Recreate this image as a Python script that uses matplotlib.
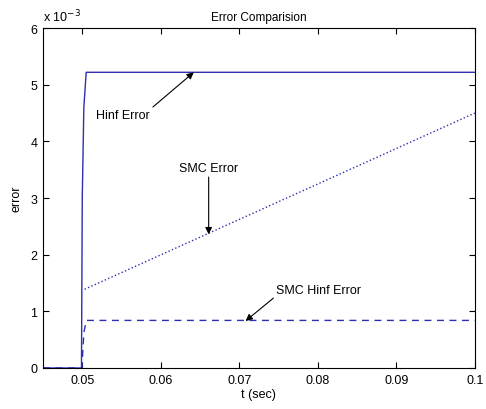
import matplotlib
matplotlib.use("Agg")
import matplotlib.pyplot as plt

plt.rcParams['font.family'] = ['Liberation Sans', 'DejaVu Sans']

# values in units of 1e-3
hinf_t = [0.045, 0.04990, 0.05000, 0.05020, 0.05050, 0.1]
hinf_e = [0.0, 0.0, 3.0, 4.6, 5.22, 5.22]
smc_t = [0.05030, 0.1]
smc_e = [1.39, 4.50]
smchinf_t = [0.045, 0.04995, 0.05020, 0.05050, 0.1]
smchinf_e = [0.0, 0.0, 0.62, 0.84, 0.84]

xticks = [0.05, 0.06, 0.07, 0.08, 0.09, 0.1]
xticklabels = ["0.05", "0.06", "0.07", "0.08", "0.09", "0.1"]
yticks = [0, 1, 2, 3, 4, 5, 6]

blue = "#2e2eb0"
fig = plt.figure(figsize=(4.86, 4.10), dpi=100)
ax = fig.add_axes([0.0885, 0.100, 0.8885, 0.829])
ax.plot(smc_t, smc_e, ":", color=blue, lw=1.0)
ax.plot(smchinf_t, smchinf_e, "--", color=blue, lw=1.0, dashes=(5, 4))
ax.plot(hinf_t, hinf_e, "-", color=blue, lw=1.0)

ax.set_xlim(0.045, 0.1)
ax.set_ylim(0, 6)
ax.set_xticks(xticks)
ax.set_xticklabels(xticklabels)
ax.set_yticks(yticks)
ax.tick_params(direction="in", top=True, right=True, labelsize=9, length=4, width=0.8, pad=4)
for s in ax.spines.values():
    s.set_linewidth(0.8)

ax.set_title("Error Comparision", fontsize=8.5, pad=6)
ax.set_xlabel("t (sec)", fontsize=9, labelpad=2)
ax.set_ylabel("error", fontsize=9, labelpad=6)
ax.text(0.0, 1.012, r"x 10$^{-3}$", transform=ax.transAxes, fontsize=9, va="bottom", ha="left")

arr = dict(arrowstyle="-|>", color="black", lw=0.8, mutation_scale=10, shrinkA=0, shrinkB=0)
ax.annotate("Hinf Error", xy=(0.0642, 5.22), xytext=(0.0518, 4.46), fontsize=9,
            va="center", ha="left", arrowprops=dict(arr, relpos=(1.0, 1.0)))
ax.annotate("SMC Error", xy=(0.0661, 2.36), xytext=(0.0661, 3.42), fontsize=9,
            va="bottom", ha="center", arrowprops=arr)
ax.annotate("SMC Hinf Error", xy=(0.0708, 0.83), xytext=(0.0747, 1.38), fontsize=9,
            va="center", ha="left", arrowprops=dict(arr, relpos=(0.0, 0.0)))

fig.savefig("out.png", dpi=100)
